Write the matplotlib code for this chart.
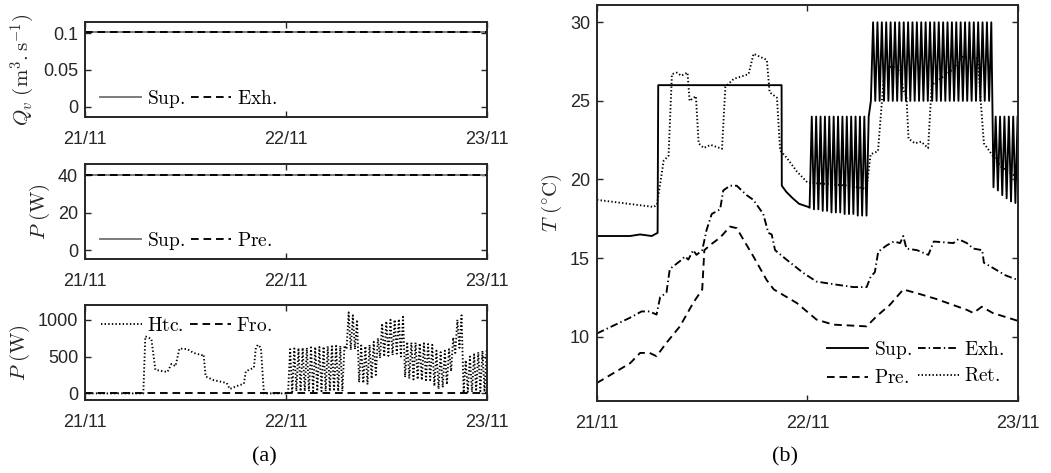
import numpy as np
import matplotlib
matplotlib.use('Agg')
import matplotlib.pyplot as plt

plt.rcParams['font.family'] = 'Liberation Sans'
plt.rcParams['mathtext.fontset'] = 'cm'
plt.rcParams['lines.scale_dashes'] = False

days = [0, 1, 2]
day_labels = ['21/11', '22/11', '23/11']

# (a) top: volume flow rates
qv_t = [0, 2]
qv_sup = [0.102, 0.102]
qv_exh = [0.102, 0.102]

# (a) middle: fan power
fan_t = [0, 2]
fan_sup = [40, 40]
fan_pre = [40, 40]

# (a) bottom: heating coil on 21/11 (before cycling) and frost protection
htc_t = [0, 0.29, 0.30, 0.33, 0.35, 0.37, 0.41, 0.43, 0.45, 0.47, 0.51, 0.54, 0.58, 0.59,
         0.60, 0.64, 0.69, 0.705, 0.72, 0.755, 0.79, 0.80, 0.84, 0.85, 0.86, 0.875, 0.89, 1.0]
htc_v = [0, 0, 775, 740, 320, 310, 290, 400, 370, 610, 600, 550, 520, 530,
         230, 180, 150, 140, 60, 100, 130, 300, 350, 620, 660, 620, 0, 0]
fro_t = [0, 2]
fro_v = [0, 0]

# on/off cycling on 22/11, one tooth every 30 min
cyc_start = 1.01
cyc_period = 0.0208
sup_hi = [24, 24, 24, 24, 24, 24, 24, 24, 24, 24, 24, 24, 24, 24,
          30, 30, 30, 30, 30, 30, 30, 30, 30, 30, 30, 30, 30, 30,
          30, 30, 30, 30, 30, 30, 30, 30, 30, 30, 30, 30, 30, 30,
          24, 24, 24, 24, 24, 24]
sup_lo = [18.2, 18.1, 18.1, 18.0, 18.0, 17.9, 17.9, 17.9, 17.8, 17.8, 17.8, 17.7, 17.7, 17.7,
          25, 25, 25, 25, 25, 25, 25, 25, 25, 25, 25, 25, 25, 25,
          25, 25, 25, 25, 25, 25, 25, 25, 25, 25, 25, 25, 25, 25,
          19.5, 19.3, 19.0, 18.8, 18.6, 18.5]
htc_hi = [600, 610, 615, 620, 620, 625, 630, 630, 635, 640, 640, 645, 645, 650,
          1100, 1060, 1000, 650, 640, 660, 700, 750,
          950, 980, 1000, 1000, 1010, 1040,
          700, 690, 690, 680, 680, 670, 660,
          580, 560, 580, 600, 760, 1000, 1060,
          450, 500, 530, 560, 580, 590]
htc_lo = [0, 20, 30, 30, 30, 30, 30, 30, 30, 30, 30, 30, 30, 30,
          600, 590, 600, 150, 140, 120, 200, 250,
          480, 500, 510, 520, 540, 500,
          220, 200, 190, 190, 180, 180, 180,
          100, 60, 80, 120, 300, 550, 620,
          10, 20, 20, 30, 30, 20]

# (b) temperatures
sup_t = [0, 0.157, 0.205, 0.26, 0.288, 0.291, 0.877, 0.878, 0.90, 0.93, 0.96, 1.004]
sup_v = [16.4, 16.4, 16.5, 16.4, 16.6, 26.0, 26.0, 19.6, 19.2, 18.8, 18.45, 18.25]
exh_t = [0, 0.157, 0.212, 0.25, 0.283, 0.30, 0.33, 0.346, 0.394, 0.418, 0.434, 0.457, 0.473,
         0.50, 0.521, 0.545, 0.585, 0.60, 0.632, 0.664, 0.711, 0.743, 0.79, 0.814, 0.83, 0.846,
         0.90, 0.98, 1.043, 1.14, 1.218, 1.281, 1.30, 1.32, 1.336, 1.376, 1.41, 1.44, 1.455,
         1.47, 1.52, 1.574, 1.60, 1.693, 1.717, 1.757, 1.788, 1.83, 1.838, 1.89, 1.94, 2.0]
exh_v = [10.2, 11.2, 11.6, 11.6, 11.4, 12.5, 12.8, 14.3, 14.8, 15.1, 14.9, 15.5, 15.2,
         15.5, 16.8, 17.8, 18.1, 19.3, 19.6, 19.6, 19.0, 18.7, 17.8, 16.6, 16.5, 15.5,
         14.9, 14.05, 13.5, 13.3, 13.15, 13.15, 13.8, 14.1, 15.4, 15.8, 16.05, 15.95, 16.4,
         15.6, 15.5, 15.2, 16.05, 15.95, 16.2, 15.95, 15.6, 15.5, 14.7, 14.3, 13.9, 13.6]
pre_t = [0, 0.157, 0.205, 0.25, 0.283, 0.33, 0.394, 0.457, 0.50, 0.51, 0.545, 0.585, 0.632,
         0.664, 0.69, 0.743, 0.806, 0.84, 0.949, 1.043, 1.123, 1.281, 1.329, 1.39, 1.455,
         1.535, 1.61, 1.757, 1.788, 1.828, 1.88, 2.0]
pre_v = [7.05, 8.3, 8.96, 8.96, 8.75, 9.6, 10.65, 12.14, 13.0, 15.5, 15.9, 16.3, 17.0,
         16.9, 16.3, 15.1, 13.6, 13.0, 12.14, 11.08, 10.76, 10.65, 11.3, 12.0, 13.0,
         12.7, 12.4, 11.7, 11.5, 11.9, 11.5, 11.0]
ret_t = [0, 0.15, 0.27, 0.285, 0.317, 0.34, 0.356, 0.38, 0.40, 0.43, 0.44, 0.47, 0.483, 0.507,
         0.54, 0.594, 0.61, 0.65, 0.72, 0.744, 0.807, 0.82, 0.855, 0.87, 0.90, 0.95, 1.0, 1.1,
         1.2, 1.28, 1.30, 1.335, 1.365, 1.40, 1.44, 1.455, 1.47, 1.48, 1.51, 1.54, 1.573, 1.59,
         1.64, 1.69, 1.735, 1.81, 1.82, 1.838, 1.87, 1.92, 2.0]
ret_v = [18.7, 18.45, 18.25, 18.4, 21.2, 21.5, 26.7, 26.8, 26.6, 26.8, 25.0, 25.3, 22.3, 22.0,
         22.2, 21.95, 25.9, 26.4, 26.7, 28.0, 27.6, 25.55, 25.2, 21.85, 21.4, 20.5, 19.8, 19.7,
         19.6, 19.4, 21.6, 21.8, 26.9, 27.2, 27.0, 25.7, 25.3, 22.6, 22.3, 22.4, 22.0, 26.0,
         26.5, 27.0, 27.8, 27.7, 25.5, 22.3, 21.7, 20.8, 20.1]


def cycling(lo, hi):
    t0 = cyc_start + cyc_period * np.arange(len(lo))
    t = np.column_stack([t0, t0 + cyc_period / 2]).ravel()
    v = np.column_stack([lo, hi]).ravel()
    return t, v


ct, cv = cycling(sup_lo, sup_hi)
sup_T_t = np.concatenate([sup_t, ct])
sup_T_v = np.concatenate([sup_v, cv])
ht, hv = cycling(htc_lo, htc_hi)
htc_all_t = np.concatenate([htc_t, ht])
htc_all_v = np.concatenate([htc_v, hv])

DASH = (5.5, 3.5)
DOT = (1.0, 1.6)
DASHDOT = (5.5, 2.2, 1.0, 2.2)
lw = 1.35
ink = '#262626'

fig = plt.figure(figsize=(10.51, 4.73), dpi=100)
ax1 = fig.add_axes([0.0809, 0.7526, 0.3825, 0.2008])
ax2 = fig.add_axes([0.0809, 0.4524, 0.3825, 0.2008])
ax3 = fig.add_axes([0.0809, 0.1543, 0.3825, 0.2008])
ax4 = fig.add_axes([0.568, 0.1522, 0.4006, 0.8372])

ax1.plot(qv_t, qv_sup, color='#777777', lw=lw, label=r'$\mathrm{Sup.}$')
ax1.plot(qv_t, qv_exh, color='black', lw=lw, dashes=DASH, label=r'$\mathrm{Exh.}$')
ax1.set_ylim(-0.014, 0.115)
ax1.set_yticks([0, 0.05, 0.1])
ax1.set_yticklabels(['0', '0.05', '0.1'])
ax1.set_ylabel(r'$Q_v\ (\mathrm{m}^3.\mathrm{s}^{-1})$')

ax2.plot(fan_t, fan_sup, color='#777777', lw=lw, label=r'$\mathrm{Sup.}$')
ax2.plot(fan_t, fan_pre, color='black', lw=lw, dashes=DASH, label=r'$\mathrm{Pre.}$')
ax2.set_ylim(-4.8, 45.9)
ax2.set_yticks([0, 20, 40])
ax2.set_ylabel(r'$P\ (\mathrm{W})$')

ax3.plot(htc_all_t, htc_all_v, color='black', lw=lw, dashes=DOT, label=r'$\mathrm{Htc.}$')
ax3.plot(fro_t, fro_v, color='black', lw=lw, dashes=DASH, label=r'$\mathrm{Fro.}$')
ax3.set_ylim(-90, 1200)
ax3.set_yticks([0, 500, 1000])
ax3.set_ylabel(r'$P\ (\mathrm{W})$')

ax4.plot(sup_T_t, sup_T_v, color='black', lw=lw, label=r'$\mathrm{Sup.}$')
ax4.plot(pre_t, pre_v, color='black', lw=lw, dashes=DASH, label=r'$\mathrm{Pre.}$')
ax4.plot(exh_t, exh_v, color='black', lw=lw, dashes=DASHDOT, label=r'$\mathrm{Exh.}$')
ax4.plot(ret_t, ret_v, color='black', lw=lw, dashes=DOT, label=r'$\mathrm{Ret.}$')
ax4.set_ylim(5.9, 31.1)
ax4.set_yticks([10, 15, 20, 25, 30])
ax4.set_ylabel(r'$T\ (^{\circ}\mathrm{C})$')

for ax in (ax1, ax2, ax3, ax4):
    ax.set_xlim(0, 2)
    ax.set_xticks(days)
    ax.set_xticklabels(day_labels)
    ax.tick_params(direction='in', top=True, right=True, length=4, width=1,
                   labelsize=13, colors=ink)
    ax.tick_params(axis='x', pad=10)
    ax.tick_params(axis='y', pad=5)
    ax.yaxis.label.set_size(15)
    ax.yaxis.label.set_color(ink)
    for s in ax.spines.values():
        s.set_linewidth(1.4)
        s.set_color(ink)

leg_kw = dict(frameon=False, fontsize=14, handlelength=2.1, handletextpad=0.3,
              columnspacing=0.3)
ax1.legend(loc='lower left', bbox_to_anchor=(0.02, 0.0), ncol=2,
           borderaxespad=0.0, borderpad=0.35, **leg_kw)
ax2.legend(loc='lower left', bbox_to_anchor=(0.02, 0.0), ncol=2,
           borderaxespad=0.0, borderpad=0.35, **leg_kw)
ax3.legend(loc='upper left', bbox_to_anchor=(0.01, 1.0), ncol=2,
           borderaxespad=0.2, **leg_kw)
ax4.legend(loc='lower right', ncol=2, labelspacing=0.45, borderaxespad=0.3, **leg_kw)

fig.text(0.252, 0.025, '(a)', family='Liberation Serif', fontsize=16, ha='center')
fig.text(0.747, 0.025, '(b)', family='Liberation Serif', fontsize=16, ha='center')

fig.savefig('out.png', dpi=100)
